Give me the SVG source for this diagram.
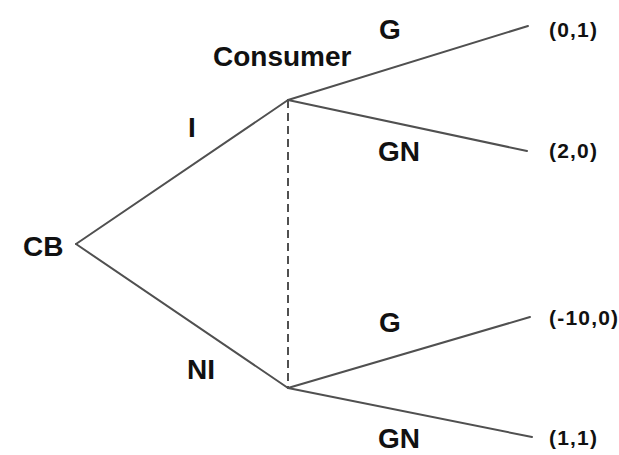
<svg xmlns="http://www.w3.org/2000/svg" width="619" height="455" viewBox="0 0 619 455">
<style>
.lbl{font-family:"Liberation Sans",Arial,sans-serif;font-weight:bold;font-size:28px;fill:#111}
.pay{font-family:"Liberation Sans",Arial,sans-serif;font-weight:bold;font-size:21px;fill:#111;letter-spacing:1.2px}
.edge{stroke:#505050;stroke-width:2;fill:none;stroke-linecap:round}
.info{stroke:#505050;stroke-width:2;fill:none;stroke-dasharray:8 5}
</style>
<rect width="619" height="455" fill="#fff"/>
<g id="connectors">
<line class="edge" x1="76" y1="244" x2="288" y2="100"/>
<line class="edge" x1="76" y1="244" x2="288" y2="388"/>
<line class="edge" x1="288" y1="100" x2="528" y2="26"/>
<line class="edge" x1="288" y1="100" x2="527" y2="151"/>
<line class="edge" x1="288" y1="388" x2="530" y2="317"/>
<line class="edge" x1="288" y1="388" x2="532" y2="437"/>
<line class="info" x1="288" y1="100" x2="288" y2="388"/>
<text class="lbl" x="188" y="137">I</text>
<text class="lbl" x="187" y="379">NI</text>
<text class="lbl" x="379" y="39">G</text>
<text class="lbl" x="378" y="161">GN</text>
<text class="lbl" x="379" y="332">G</text>
<text class="lbl" x="378" y="448">GN</text>
</g>
<g id="node-cb"><text class="lbl" x="23" y="256">CB</text></g>
<g id="node-consumer"><text class="lbl" x="213" y="66">Consumer</text></g>
<g id="leaf-1"><text class="pay" x="549" y="37">(0,1)</text></g>
<g id="leaf-2"><text class="pay" x="549" y="158">(2,0)</text></g>
<g id="leaf-3"><text class="pay" x="549" y="325">(-10,0)</text></g>
<g id="leaf-4"><text class="pay" x="549" y="445">(1,1)</text></g>
</svg>
